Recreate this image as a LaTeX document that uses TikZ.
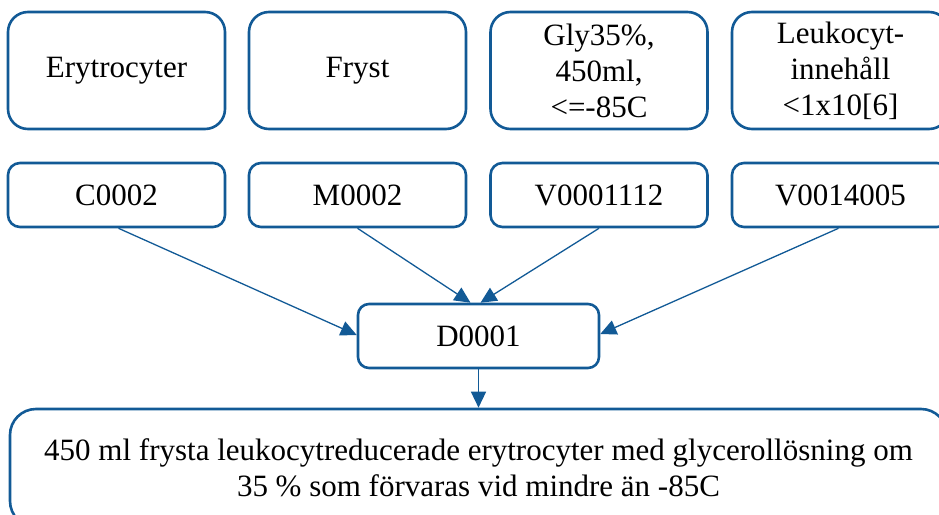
\documentclass[tikz,border=0pt]{standalone}
\usepackage{fontspec}
\setmainfont{Liberation Serif}
\usetikzlibrary{arrows.meta,calc}
\definecolor{boxblue}{RGB}{18,90,150}
\tikzset{
  txt/.style={font=\fontsize{31}{36}\selectfont, align=center, text=black},
  topbox/.style={txt, draw=boxblue, line width=2.6pt, rounded corners=20pt, minimum width=217pt, minimum height=117pt, inner sep=0pt},
  codebox/.style={txt, draw=boxblue, line width=2.6pt, rounded corners=12pt, minimum width=217pt, minimum height=64pt, inner sep=0pt},
  midbox/.style={txt, draw=boxblue, line width=2.6pt, rounded corners=11pt, minimum width=241pt, minimum height=64pt, inner sep=0pt},
  bigbox/.style={txt, draw=boxblue, line width=2.6pt, rounded corners=26pt, minimum width=937pt, minimum height=118pt, inner sep=0pt},
  conn/.style={draw=boxblue, line width=1.3pt, -{Triangle[length=16pt,width=15pt]}}
}
\begin{document}
\begin{tikzpicture}[x=1pt,y=-1pt]
\useasboundingbox (0,0) rectangle (939,514);
\clip (0,0) rectangle (939,514);
\node[topbox] (t1) at (116.5,70.5) {Erytrocyter};
\node[topbox] (t2) at (357.5,70.5) {Fryst};
\node[topbox] (t3) at (599,70.5) {Gly35\%,\\450ml,\\<=-85C};
\node[topbox] (t4) at (840.5,70.5) {Leukocyt-\\innehåll\\<1x10[6]};
\node[codebox] (c1) at (116.5,195) {C0002};
\node[codebox] (c2) at (357.5,195) {M0002};
\node[codebox] (c3) at (599,195) {V0001112};
\node[codebox] (c4) at (840.5,195) {V0014005};
\node[midbox] (d) at (478.5,336) {D0001};
\node[bigbox] (b) at (478.5,468) {450 ml frysta leukocytreducerade erytrocyter med glycerollösning om\\35 \% som förvaras vid mindre än -85C};
\draw[conn] ($(c1.south)+(2,0)$) -- ($(d.west)+(0,-1)$);
\draw[conn] (c2.south) -- ($(d.north)+(-8,0)$);
\draw[conn] (c3.south) -- ($(d.north)+(2,0)$);
\draw[conn] ($(c4.south)+(-2,0)$) -- ($(d.east)+(0,-2)$);
\draw[conn] (d.south) -- (b.north);
\end{tikzpicture}
\end{document}
